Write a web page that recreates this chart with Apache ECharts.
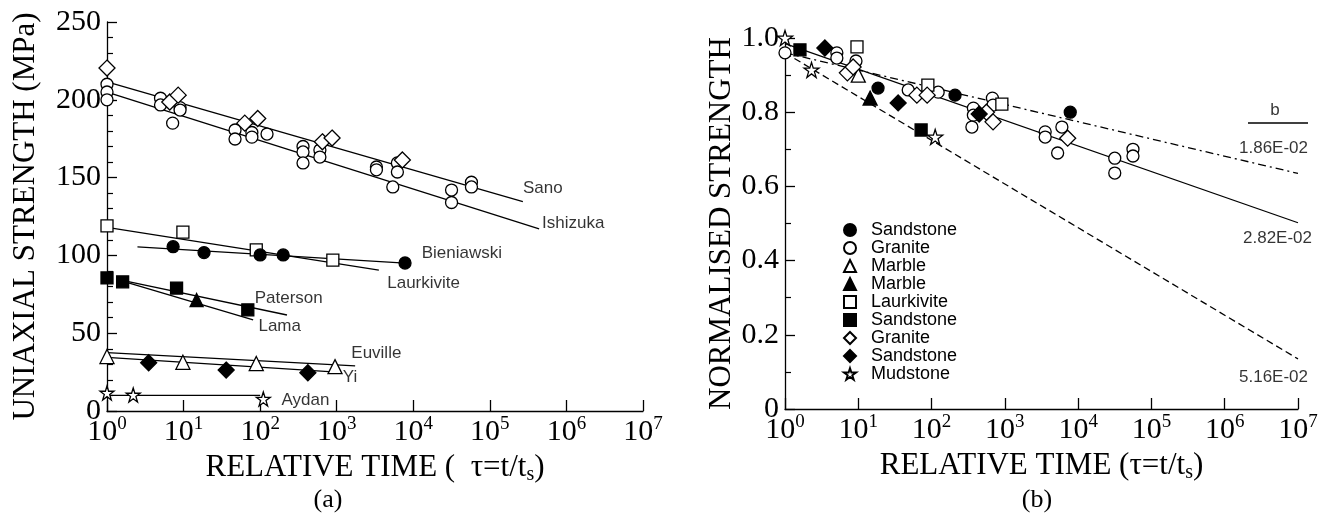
<!DOCTYPE html>
<html><head><meta charset="utf-8">
<script src="https://cdn.jsdelivr.net/npm/echarts@6/dist/echarts.min.js"></script>
<style>html,body{margin:0;padding:0;background:#fff}#c{width:1341px;height:514px}</style>
</head><body><div id="c"></div>
<script>
// ---------- Panel (a): uniaxial strength (MPa) vs relative time ----------
const aOpenCircleX = [1,1,1, 5,5, 9,9, 7.2, 47,47, 78,78, 123, 363,363,363, 603,603, 3300,3300, 6200,6200, 5400, 31600,31600, 57500,57500];
const aOpenCircleY = [210,205,200, 201,196.7, 195,193.4, 185, 180.6,174.8, 179,176, 178, 170,166.5,159.4, 167.7,163.2, 156.8,155, 159.4,153.6, 144, 142,134, 147,144];
const aOpenDiamondX = [1, 6.6, 8.5, 63, 93, 650, 870, 7200];
const aOpenDiamondY = [220.4, 198.6, 203, 185, 188, 173, 175.4, 161.3];
const aOpenSquareX = [1, 9.8, 89, 890];
const aOpenSquareY = [119, 115, 103.5, 97];
const aFilledCircleX = [7.3, 18.5, 100, 200, 7800];
const aFilledCircleY = [105.6, 101.8, 100.3, 100.3, 95.1];
const aFilledSquareX = [1, 1.6, 8.1, 69];
const aFilledSquareY = [85.5, 83, 79, 65];
const aFilledTriangleX = [14.8];
const aFilledTriangleY = [71.3];
const aOpenTriangleX = [1, 9.8, 89, 950];
const aOpenTriangleY = [35, 31.3, 30.5, 28.5];
const aFilledDiamondX = [3.5, 36, 420];
const aFilledDiamondY = [31, 26.3, 24.6];
const aStarX = [1, 2.2, 110];
const aStarY = [11.6, 10.3, 7.7];

// fitted lines in (a): name, x-start, x-end, y-start, y-end
const aLineNames = ['Sano','Ishizuka','Laurkivite','Bieniawski','Paterson','Lama','Euville','Yi','Aydan'];
const aLineX0 = [1, 1, 1, 2.5, 1.48, 1.48, 1, 1, 1];
const aLineX1 = [2.7e5, 4.4e5, 3550, 7800, 224, 81, 1740, 1000, 100];
const aLineY0 = [211.5, 205, 118, 105.5, 84.2, 84, 37.5, 34.5, 10];
const aLineY1 = [134.5, 117, 90.5, 95.1, 61.7, 58.5, 29, 25, 10];

// text annotations in (a), anchored at the left-middle of each label
const aAnnText = ['Sano','Ishizuka','Bieniawski','Laurkivite','Paterson','Lama','Euville','Yi','Aydan'];
const aAnnX = [2.7e5, 4.8e5, 1.29e4, 4570, 85, 95, 1550, 1200, 190];
const aAnnY = [143.3, 120.8, 101.5, 82.3, 72.6, 54.6, 37.3, 21.9, 7.1];

// ---------- Panel (b): normalised strength vs relative time ----------
const bSandstoneCircleX = [18.6, 209, 7800];
const bSandstoneCircleY = [0.865, 0.846, 0.80];
const bGraniteCircleX = [1, 5.1, 5.1, 9.3, 48, 123, 372, 372, 355, 676, 690, 3550, 3550, 5250, 6000, 31600, 31600, 56000, 56000];
const bGraniteCircleY = [0.96, 0.96, 0.946, 0.938, 0.86, 0.854, 0.811, 0.792, 0.76, 0.838, 0.819, 0.747, 0.733, 0.69, 0.76, 0.676, 0.636, 0.70, 0.682];
const bMarbleOpenX = [10];
const bMarbleOpenY = [0.90];
const bMarbleFilledX = [14.5];
const bMarbleFilledY = [0.838];
const bLaurkiviteX = [9.6, 89, 910];
const bLaurkiviteY = [0.976, 0.873, 0.822];
const bSandstoneSquareX = [1.6, 72];
const bSandstoneSquareY = [0.968, 0.752];
const bGraniteDiamondX = [7.1, 8.5, 63, 87, 690, 560, 7200];
const bGraniteDiamondY = [0.906, 0.922, 0.846, 0.846, 0.774, 0.80, 0.73];
const bSandstoneDiamondX = [3.5, 35, 446];
const bSandstoneDiamondY = [0.973, 0.825, 0.795];
const bMudstoneX = [1, 2.3, 112];
const bMudstoneY = [1.0, 0.914, 0.733];

const bLineB = ['1.86E-02', '2.82E-02', '5.16E-02'];
const bLineX0 = [1, 1, 1];
const bLineX1 = [1e7, 1e7, 1e7];
const bLineY0 = [0.96, 0.985, 0.96];
const bLineY1 = [0.635, 0.502, 0.135];
const bAnnY = [0.7035, 0.461, 0.086];
const bHeaderY = 0.806;

const aYTicks = [0, 50, 100, 150, 200, 250];
const bYTicks = [0, 0.2, 0.4, 0.6, 0.8, 1.0];

// ---------- styling ----------
const SERIF = '"Liberation Serif", "DejaVu Serif", serif';
const SANS = '"Liberation Sans", Arial, sans-serif';
const BLACK = '#000';
const STAR = 'path://M50,2 L61,36 L97,36 L68,57 L79,92 L50,71 L21,92 L32,57 L3,36 L39,36 Z';

const zip = (xs, ys) => xs.map((x, i) => [x, ys[i]]);

function scatter(name, xs, ys, symbol, size, filled, axis) {
  return {
    type: 'scatter', name, xAxisIndex: axis, yAxisIndex: axis,
    data: zip(xs, ys), symbol, symbolSize: size, clip: false, z: 4,
    itemStyle: { color: filled ? BLACK : '#fff', borderColor: BLACK, borderWidth: 1.3, opacity: 1 },
    emphasis: { disabled: true }
  };
}
function fitLine(x0, x1, y0, y1, axis, type) {
  return {
    type: 'line', xAxisIndex: axis, yAxisIndex: axis, data: [[x0, y0], [x1, y1]],
    symbol: 'none', clip: false, silent: true, z: 2,
    lineStyle: { color: BLACK, width: 1.3, type: type || 'solid' }
  };
}

const xLabel = {
  formatter: v => '{b|10}{s|' + Math.round(Math.log10(v)) + '}',
  margin: 4,
  rich: {
    b: { fontFamily: SERIF, fontSize: 30, color: BLACK, lineHeight: 34 },
    s: { fontFamily: SERIF, fontSize: 19, color: BLACK, verticalAlign: 'top', lineHeight: 34 }
  }
};
const nameRich = { sub: { fontFamily: SERIF, fontSize: 20, color: BLACK, padding: [14, 0, 0, 0] } };

function xAxis(grid, name) {
  return {
    gridIndex: grid, type: 'log', logBase: 10, min: 1, max: 1e7,
    axisLine: { lineStyle: { color: BLACK, width: 1.3 } },
    axisTick: { inside: true, length: 11, lineStyle: { color: BLACK, width: 1.3 } },
    axisLabel: xLabel, splitLine: { show: false }, minorTick: { show: false },
    name, nameLocation: 'middle', nameGap: 40,
    nameTextStyle: { fontFamily: SERIF, fontSize: 31, color: BLACK, rich: nameRich }
  };
}
function yAxis(grid, name, max, interval, minorSplit, fmt, gap) {
  return {
    gridIndex: grid, type: 'value', min: 0, max, interval,
    axisLine: { show: true, lineStyle: { color: BLACK, width: 1.3 } },
    axisTick: { show: true, inside: true, length: 10, lineStyle: { color: BLACK, width: 1.3 } },
    minorTick: { show: true, splitNumber: minorSplit, length: 6, lineStyle: { color: BLACK, width: 1.2 } },
    splitLine: { show: false },
    axisLabel: { formatter: fmt, margin: 6, fontFamily: SERIF, fontSize: 30, color: BLACK },
    name, nameLocation: 'middle', nameRotate: 90, nameGap: gap,
    nameTextStyle: { fontFamily: SERIF, fontSize: 31, color: BLACK }
  };
}

const series = [];
// (a)
aLineNames.forEach((n, i) => series.push(fitLine(aLineX0[i], aLineX1[i], aLineY0[i], aLineY1[i], 0)));
series.push(scatter('a-oc', aOpenCircleX, aOpenCircleY, 'circle', 12, false, 0));
series.push(scatter('a-od', aOpenDiamondX, aOpenDiamondY, 'diamond', 16, false, 0));
series.push(scatter('a-os', aOpenSquareX, aOpenSquareY, 'rect', 12, false, 0));
series.push(scatter('a-fc', aFilledCircleX, aFilledCircleY, 'circle', 12, true, 0));
series.push(scatter('a-fs', aFilledSquareX, aFilledSquareY, 'rect', 12, true, 0));
series.push(scatter('a-ft', aFilledTriangleX, aFilledTriangleY, 'triangle', 13, true, 0));
series.push(scatter('a-ot', aOpenTriangleX, aOpenTriangleY, 'triangle', 14, false, 0));
series.push(scatter('a-fd', aFilledDiamondX, aFilledDiamondY, 'diamond', 16, true, 0));
series.push(scatter('a-st', aStarX, aStarY, STAR, 14, false, 0));
series.push({
  type: 'scatter', xAxisIndex: 0, yAxisIndex: 0, symbolSize: 0, silent: true, clip: false, z: 5,
  data: aAnnText.map((t, i) => ({ value: [aAnnX[i], aAnnY[i]], label: { formatter: t } })),
  label: { show: true, position: 'right', distance: 0, fontFamily: SANS, fontSize: 17, color: BLACK }
});
// (b)
const bTypes = [[8, 4, 2, 4], 'solid', [7, 4]];
bLineB.forEach((n, i) => series.push(fitLine(bLineX0[i], bLineX1[i], bLineY0[i], bLineY1[i], 1, bTypes[i])));
const bNames = ['Sandstone#1','Granite#1','Marble#1','Marble#2','Laurkivite','Sandstone#2','Granite#2','Sandstone#3','Mudstone'];
series.push(scatter(bNames[0], bSandstoneCircleX, bSandstoneCircleY, 'circle', 12, true, 1));
series.push(scatter(bNames[1], bGraniteCircleX, bGraniteCircleY, 'circle', 12, false, 1));
series.push(scatter(bNames[2], bMarbleOpenX, bMarbleOpenY, 'triangle', 14, false, 1));
series.push(scatter(bNames[3], bMarbleFilledX, bMarbleFilledY, 'triangle', 14, true, 1));
series.push(scatter(bNames[4], bLaurkiviteX, bLaurkiviteY, 'rect', 12, false, 1));
series.push(scatter(bNames[5], bSandstoneSquareX, bSandstoneSquareY, 'rect', 12, true, 1));
series.push(scatter(bNames[6], bGraniteDiamondX, bGraniteDiamondY, 'diamond', 16, false, 1));
series.push(scatter(bNames[7], bSandstoneDiamondX, bSandstoneDiamondY, 'diamond', 16, true, 1));
series.push(scatter(bNames[8], bMudstoneX, bMudstoneY, STAR, 15, false, 1));
series.push({
  type: 'scatter', xAxisIndex: 1, yAxisIndex: 1, symbolSize: 0, silent: true, clip: false, z: 5,
  data: [{ value: [1e7, bHeaderY], label: { formatter: 'b', align: 'center', offset: [-23, 0] } }]
    .concat(bLineB.map((t, i) => ({ value: [1e7, bAnnY[i]], label: { formatter: t, align: 'right', offset: [i === 1 ? 14 : 10, 0] } }))),
  label: { show: true, position: 'inside', fontFamily: SANS, fontSize: 17, color: BLACK }
});

const chart = echarts.init(document.getElementById('c'), null, { renderer: 'canvas' });
chart.setOption({
  animation: false,
  backgroundColor: '#fff',
  grid: [
    { left: 107, top: 22, width: 536, height: 389 },
    { left: 785, top: 38, width: 513, height: 371 }
  ],
  xAxis: [
    xAxis(0, 'RELATIVE TIME (  τ=t/t{sub|s})'),
    xAxis(1, 'RELATIVE TIME (τ=t/t{sub|s})')
  ],
  yAxis: [
    yAxis(0, 'UNIAXIAL STRENGTH (MPa)', aYTicks[aYTicks.length - 1], aYTicks[1] - aYTicks[0], 5, v => String(v), 66),
    yAxis(1, 'NORMALISED STRENGTH', bYTicks[bYTicks.length - 1], bYTicks[1] - bYTicks[0], 2, v => v === 0 ? '0' : v.toFixed(1), 48)
  ],
  legend: {
    orient: 'vertical', left: 838, top: 216, itemWidth: 12, itemHeight: 12, itemGap: 0,
    selectedMode: false, data: bNames, formatter: n => n.split('#')[0],
    textStyle: { fontFamily: SANS, fontSize: 18, color: BLACK, padding: [0, 0, 0, 10] }
  },
  series
});

const hdr = chart.convertToPixel({ xAxisIndex: 1, yAxisIndex: 1 }, [1e7, bHeaderY]);
chart.setOption({
  graphic: [
    { type: 'line', shape: { x1: hdr[0] - 50, y1: hdr[1] + 13, x2: hdr[0] + 10, y2: hdr[1] + 13 }, style: { stroke: BLACK, lineWidth: 1.5 } },
    { type: 'text', x: 328, y: 500, style: { text: '(a)', font: '26px ' + SERIF, fill: BLACK, align: 'center', verticalAlign: 'middle' } },
    { type: 'text', x: 1037, y: 500, style: { text: '(b)', font: '26px ' + SERIF, fill: BLACK, align: 'center', verticalAlign: 'middle' } }
  ]
});
</script></body></html>
